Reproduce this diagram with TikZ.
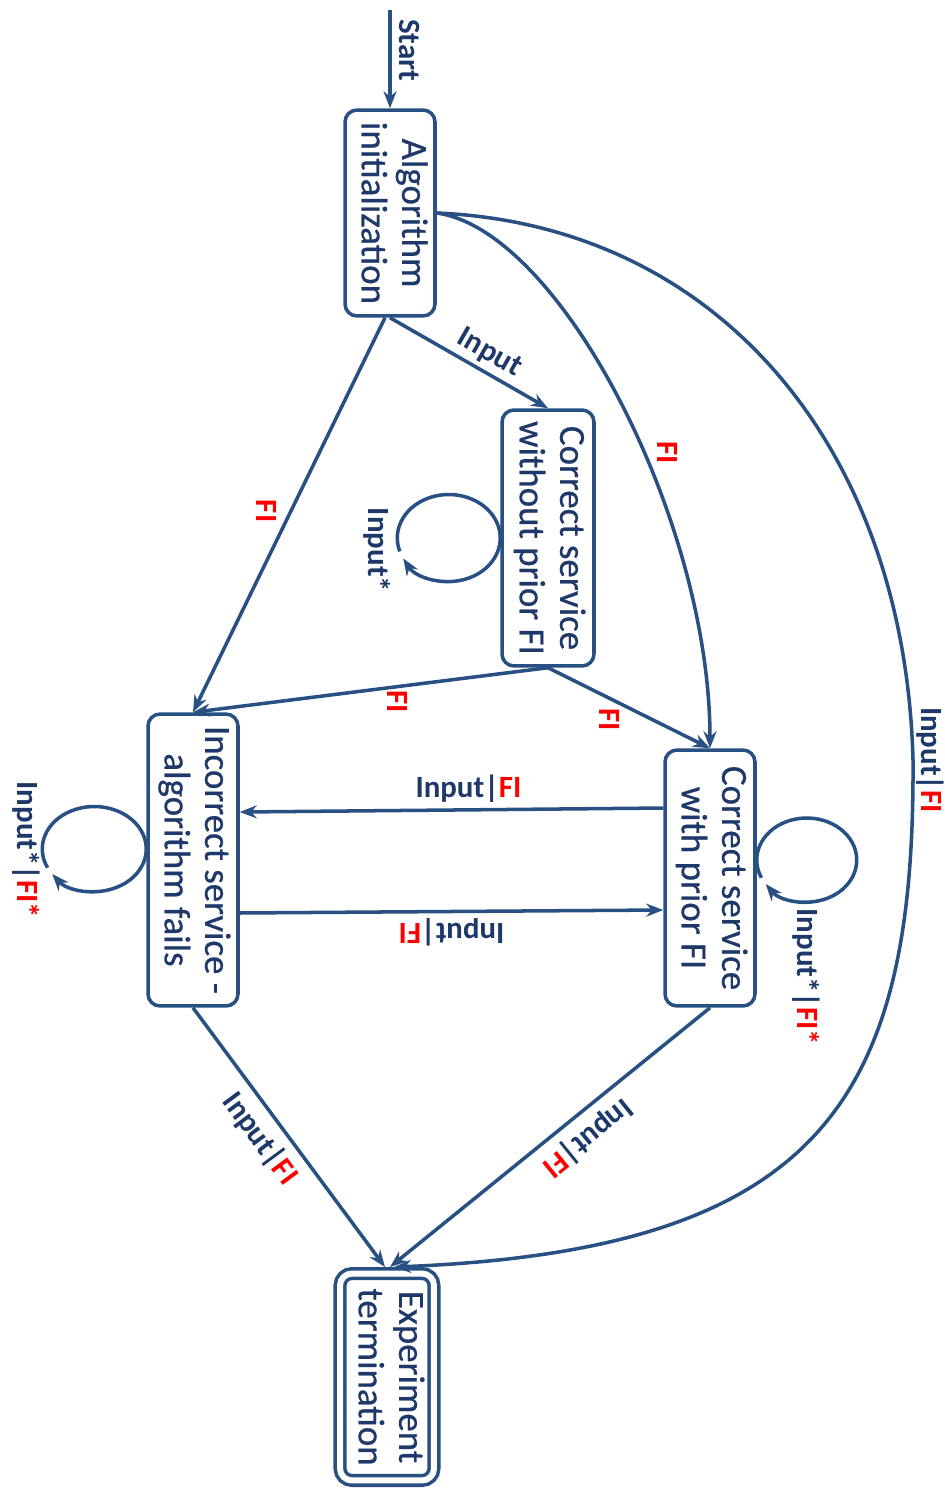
\documentclass[tikz,border=0pt]{standalone}
\usepackage{fontspec}
\setmainfont{Carlito}
\newfontfamily\statefont{Carlito}[FakeBold=0.6]
\usepackage{graphicx}
\usepackage{xcolor}
\usetikzlibrary{arrows.meta}

\definecolor{navy}{RGB}{30,56,105}
\definecolor{edge}{RGB}{40,80,130}
\definecolor{fired}{RGB}{255,0,0}

\newcommand{\fault}[1]{\textcolor{fired}{#1}}
\newcommand{\vstack}[1]{\rotatebox{-90}{\begin{tabular}{@{}c@{}}#1\end{tabular}}}

\begin{document}
\begin{tikzpicture}[x=0.02cm, y=0.02cm,
  stbox/.style={draw=edge, line width=2pt, rounded corners=0.24cm, fill=white,
                text=navy, inner sep=0pt, minimum width=1.8cm,
                font=\statefont\fontsize{21}{23}\selectfont},
  endbox/.style={stbox, double=white, double distance=0.12cm, outer sep=0.13cm},
  arrow/.style={-{Stealth[length=0.34cm, width=0.26cm]}, line width=2pt, draw=edge},
  lbl/.style={font=\fontsize{17.6}{20}\selectfont\bfseries, text=navy, inner sep=3pt},
  vlbl/.style={lbl, rotate=-90}
]
\useasboundingbox (0,0) rectangle (944,-1488);

% states
\node[stbox, minimum height=4.12cm] (init) at (390,-213) {\vstack{Algorithm\\initialization}};
\node[stbox, minimum width=1.84cm, minimum height=5.12cm] (csw) at (548,-538)
  {\vstack{Correct service\\without prior FI}};
\node[stbox, minimum height=5.84cm] (inc) at (193,-860) {\vstack{Incorrect service -\\algorithm fails}};
\node[stbox, minimum height=5.12cm] (cswp) at (710,-878) {\vstack{Correct service\\with prior FI}};
\node[endbox, minimum width=1.88cm, minimum height=4.14cm] (term) at (387,-1377)
  {\vstack{Experiment\\termination}};

\coordinate (start) at (390,-10);

% transitions
\draw[arrow] (start) -- node[vlbl, anchor=south, inner sep=4pt, pos=0.41] {Start} (init);
\draw[arrow] (init.south) -- node[lbl, sloped, above, inner sep=2.5pt, pos=0.57] {Input} (csw.north);
\draw[arrow] ([xshift=-0.1cm]init.south) -- node[vlbl, anchor=north, inner sep=7pt, pos=0.49] {\fault{FI}} (inc.north);
\draw[arrow] (init.east) .. controls (560,-230) and (710,-520) ..
  node[vlbl, anchor=south, inner sep=7pt, pos=0.58] {\fault{FI}} (cswp.north);
\draw[arrow] (init.east) .. controls (720,-225) and (905,-450) .. (913,-760)
  node[vlbl, anchor=south, inner sep=1pt] {Input|\fault{FI}}
  .. controls (915,-1100) and (820,-1250) .. ([xshift=0.14cm]term.north);

\draw[arrow] (csw.south) -- node[vlbl, anchor=west, inner sep=1pt, pos=0.425] {\fault{FI}} (inc.north);
\draw[arrow] (csw.south) -- node[vlbl, anchor=west, inner sep=4.5pt, pos=0.38] {\fault{FI}} (cswp.north);

\draw[arrow] ([yshift=1.4cm]cswp.west) -- node[lbl, above, pos=0.46] {Input|\fault{FI}} ([yshift=0.96cm]inc.east);
\draw[arrow] ([yshift=-1.06cm]inc.east) -- node[lbl, rotate=180, anchor=south, pos=0.5] {Input|\fault{FI}} ([yshift=-0.64cm]cswp.west);

\draw[arrow] (inc.south) -- node[lbl, sloped, below, inner sep=5pt, pos=0.45] {Input|\fault{FI}} ([xshift=-0.04cm]term.north);
\draw[arrow] (cswp.south) -- node[lbl, sloped, allow upside down, above, inner sep=5pt, pos=0.43] {Input|\fault{FI}} ([xshift=0.06cm]term.north);

% self loops
\draw[arrow] ([xshift=-1.03cm]csw.west) ++(198:1.03cm and 0.87cm)
  arc[start angle=198, end angle=-152, x radius=1.03cm, y radius=0.87cm];
\draw[arrow] ([shift={(-1.04cm,0.22cm)}]inc.west) ++(206:1.04cm and 0.85cm)
  arc[start angle=206, end angle=-144, x radius=1.04cm, y radius=0.85cm];
\draw[arrow] ([shift={(1.0cm,0.36cm)}]cswp.east) ++(205:1.0cm and 0.84cm)
  arc[start angle=205, end angle=-145, x radius=1.0cm, y radius=0.84cm];

\node[vlbl] (loopcsw) at (377,-550) {Input*};
\node[vlbl] (loopinc) at (26,-850) {Input*|\fault{FI*}};
\node[vlbl] (loopcswp) at (806,-977) {Input*|\fault{FI*}};
\end{tikzpicture}
\end{document}
